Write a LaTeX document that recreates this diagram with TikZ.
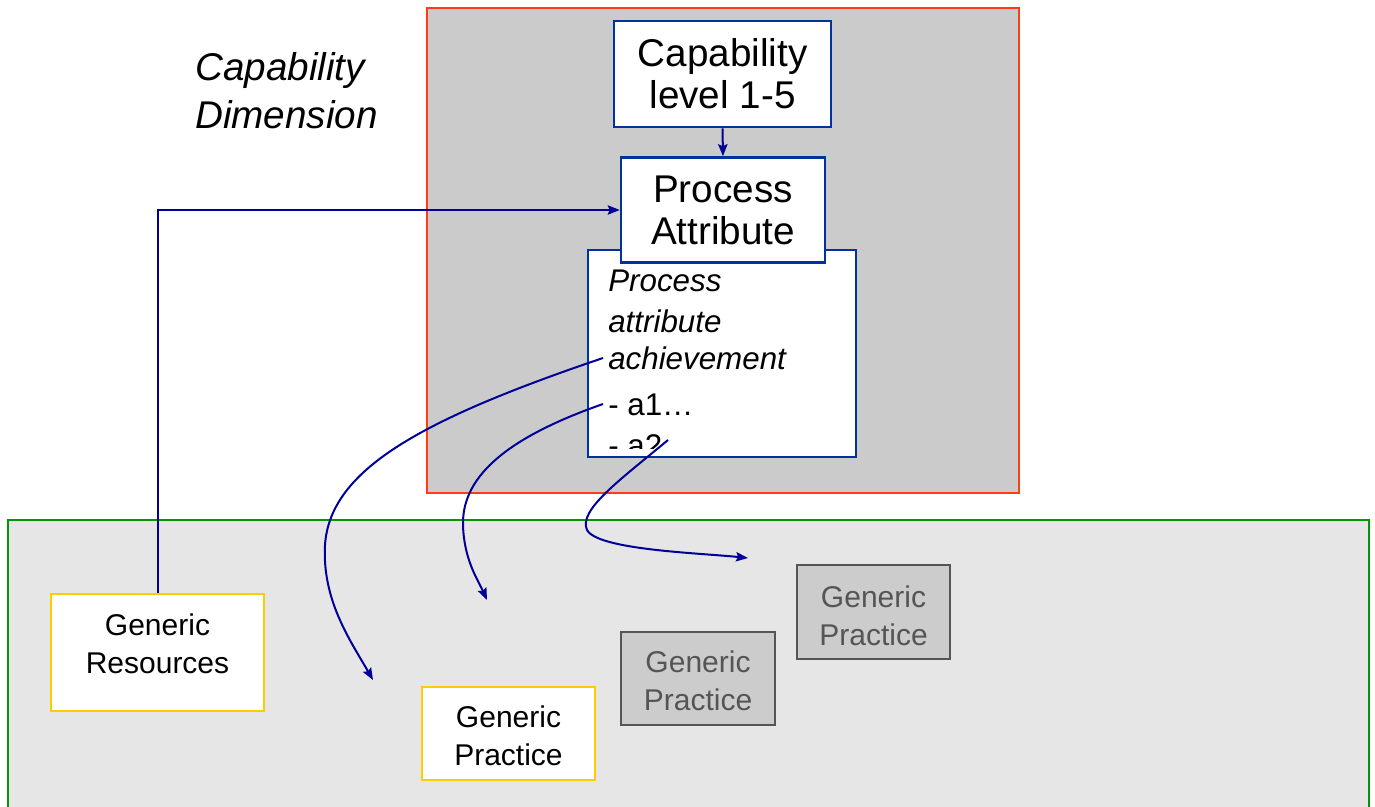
\documentclass[tikz,border=0pt]{standalone}
\usepackage{fontspec}
\setmainfont{Liberation Sans}
\usetikzlibrary{arrows.meta}
\definecolor{frameRed}{RGB}{255,60,20}
\definecolor{frameGreen}{RGB}{0,153,0}
\definecolor{upperFill}{RGB}{203,203,203}
\definecolor{lowerFill}{RGB}{230,230,230}
\definecolor{boxBlue}{RGB}{0,51,153}
\definecolor{connBlue}{RGB}{0,0,153}
\definecolor{boxYellow}{RGB}{255,204,0}
\definecolor{gpFill}{RGB}{204,204,204}
\definecolor{gpGray}{RGB}{85,85,85}
\begin{document}
\begin{tikzpicture}[x=0.75pt,y=-0.75pt,
  topbox/.style={draw=boxBlue, line width=1.9pt, fill=white, align=center, inner sep=0pt,
    font=\fontsize{29}{31.5}\selectfont},
  yellowbox/.style={draw=boxYellow, line width=2.2pt, fill=white, inner sep=0pt},
  graybox/.style={draw=gpGray, line width=2pt, fill=gpFill, text=gpGray, align=center, inner sep=0pt,
    font=\fontsize{22.5}{28.5}\selectfont},
  lowtext/.style={align=center, inner sep=0pt, font=\fontsize{22.5}{28.5}\selectfont},
  pabtext/.style={anchor=base west, inner sep=0pt, font=\fontsize{23.5}{30}\selectfont},
  dimtext/.style={anchor=base west, inner sep=0pt, font=\fontsize{29}{35}\selectfont\itshape},
  conn/.style={draw=connBlue, line width=1.5pt, -{Stealth[length=9pt,width=7pt,inset=1.5pt]}},
]
\useasboundingbox (0,0) rectangle (1375,807);
% frames
\draw[frameRed, line width=1.6pt, fill=upperFill] (427,8) rectangle (1019,493);
\draw[frameGreen, line width=1.6pt, fill=lowerFill] (8,520) rectangle (1369,830);
% capability dimension label
\node[dimtext] (dim1) at (195,80) {Capability};
\node[dimtext] (dim2) at (195,128) {Dimension};
% top boxes
\node[topbox, minimum width=217*0.75pt, minimum height=106*0.75pt] (cap) at (722.5,74) {Capability\\level 1-5};
\node[draw=boxBlue, line width=1.9pt, fill=white, inner sep=0pt,
  minimum width=268*0.75pt, minimum height=207*0.75pt] (pab) at (722,353.5) {};
\begin{scope}
  \clip (591,253) rectangle (853,448);
  \node[pabtext, font=\fontsize{23.5}{30}\selectfont\itshape] (t1) at (608,291) {Process};
  \node[pabtext, font=\fontsize{23.5}{30}\selectfont\itshape] (t2) at (608,332) {attribute};
  \node[pabtext, font=\fontsize{23.5}{30}\selectfont\itshape] (t3) at (608,369) {achievement};
  \node[pabtext] (t4) at (608,415) {- a1…};
  \node[pabtext] (t5) at (608,456) {- a2};
\end{scope}
\node[topbox, minimum width=204*0.75pt, minimum height=105*0.75pt] (pa) at (723,210) {Process\\Attribute};
% lower boxes
\node[yellowbox, minimum width=213*0.75pt, minimum height=117*0.75pt] (gr) at (157.5,652.5) {};
\node[lowtext] (grl) at (157.5,644) {Generic\\Resources};
\node[yellowbox, minimum width=173*0.75pt, minimum height=93*0.75pt] (gp1) at (508.5,733.5) {};
\node[lowtext] (gp1l) at (508.5,736) {Generic\\Practice};
\node[graybox, minimum width=154*0.75pt, minimum height=93*0.75pt] (gp2) at (698,678.5) {};
\node[lowtext, text=gpGray] (gp2l) at (698,681) {Generic\\Practice};
\node[graybox, minimum width=153*0.75pt, minimum height=94*0.75pt] (gp3) at (873.5,612) {};
\node[lowtext, text=gpGray] (gp3l) at (873.5,616) {Generic\\Practice};
% connectors
\draw[conn] (cap.south) -- (pa.north);
\draw[conn] (gr.north) |- (pa.west);
\coordinate (s1) at (603,358);
\coordinate (e1) at (373,680);
\coordinate (s2) at (603,404);
\coordinate (e2) at (487,600);
\coordinate (s3) at (668,440);
\coordinate (e3) at (748,558);
\draw[conn] (s1) .. controls (420,420) and (330,470) .. (325,545) .. controls (322,600) and (350,640) .. (e1);
\draw[conn] (s2) .. controls (500,440) and (462,480) .. (463,525) .. controls (464,560) and (478,580) .. (e2);
\draw[conn] (s3) .. controls (620,480) and (578,510) .. (587,530) .. controls (598,550) and (700,553) .. (e3);
\end{tikzpicture}
\end{document}
